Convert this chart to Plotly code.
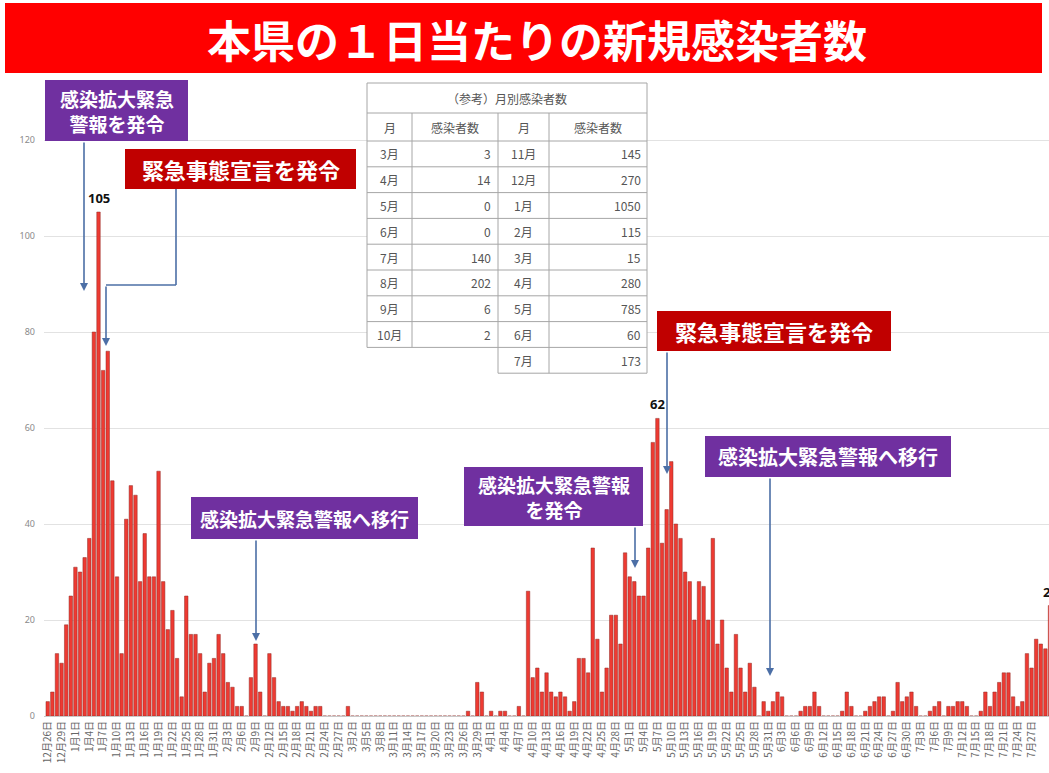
import pandas as pd
import plotly.graph_objects as go

# ---------------- data ----------------
start_date = "2020-12-26"
daily_cases = [
    3, 5, 13, 11, 19, 25, 31, 30, 33, 37,
    80, 105, 72, 76, 49, 29, 13, 41, 48, 46,
    28, 38, 29, 29, 51, 28, 18, 22, 12, 4,
    25, 17, 17, 13, 5, 11, 12, 17, 13, 7,
    6, 2, 2, 0, 8, 15, 5, 0, 13, 8,
    3, 2, 2, 1, 2, 3, 2, 1, 2, 2,
    0, 0, 0, 0, 0, 2, 0, 0, 0, 0,
    0, 0, 0, 0, 0, 0, 0, 0, 0, 0,
    0, 0, 0, 0, 0, 0, 0, 0, 0, 0,
    0, 1, 0, 7, 5, 0, 1, 0, 1, 1,
    0, 0, 2, 0, 26, 8, 10, 5, 9, 5,
    4, 5, 4, 1, 3, 12, 12, 9, 35, 16,
    5, 10, 21, 21, 15, 34, 29, 28, 25, 25,
    35, 57, 62, 36, 43, 53, 40, 37, 30, 28,
    20, 28, 27, 20, 37, 15, 20, 10, 5, 17,
    10, 5, 11, 6, 0, 3, 1, 3, 5, 4,
    0, 0, 0, 1, 2, 2, 5, 2, 0, 0,
    0, 0, 1, 5, 2, 0, 0, 1, 2, 3,
    4, 4, 0, 1, 7, 3, 4, 5, 2, 0,
    0, 1, 2, 3, 0, 2, 2, 3, 3, 2,
    0, 0, 1, 5, 2, 5, 7, 9, 9, 4,
    2, 3, 13, 10, 16, 15, 14, 23,
]
labeled_dates = ["2021-01-06", "2021-05-07", "2021-07-31"]

y_ticks = [0, 20, 40, 60, 80, 100, 120]

chart_title = "本県の１日当たりの新規感染者数"

table_title = "（参考）月別感染者数"
table_header = ["月", "感染者数", "月", "感染者数"]
months_left = ["3月", "4月", "5月", "6月", "7月", "8月", "9月", "10月"]
counts_left = [3, 14, 0, 0, 140, 202, 6, 2]
months_right = ["11月", "12月", "1月", "2月", "3月", "4月", "5月", "6月", "7月"]
counts_right = [145, 270, 1050, 115, 15, 280, 785, 60, 173]

event_texts = [
    "感染拡大緊急<br>警報を発令",
    "緊急事態宣言を発令",
    "感染拡大緊急警報へ移行",
    "感染拡大緊急警報<br>を発令",
    "緊急事態宣言を発令",
    "感染拡大緊急警報へ移行",
]

# ---------------- derived ----------------
dates = pd.date_range(start_date, periods=len(daily_cases), freq="D")

# ---------------- layout geometry (pixels) ----------------
W, H = 1049, 773
L, R, T, B = 44, 1049, 76, 716
FIRST_BAR_PX = 47.7
DAY_PX = 4.619
VAL_PX = 4.8


def px(x):
    return (x - L) / (R - L)


def py(y):
    return (B - y) / (B - T)


t0 = pd.Timestamp(start_date)
x_range = [t0 + pd.Timedelta(days=(L - FIRST_BAR_PX) / DAY_PX),
           t0 + pd.Timedelta(days=(R - FIRST_BAR_PX) / DAY_PX)]
y_top = (B - T) / VAL_PX


def date_to_px(d):
    return FIRST_BAR_PX + DAY_PX * (pd.Timestamp(d) - t0).days


def value_to_px(v):
    return B - VAL_PX * v


CJK = "Noto Sans CJK JP"
PURPLE = "#7030A0"
DARKRED = "#C00000"
ARROW = "#4C6FA6"

fig = go.Figure()
fig.add_trace(go.Bar(
    x=dates, y=daily_cases,
    marker=dict(color="#EE3A32", line=dict(color="#8E2A24", width=0.5)),
    cliponaxis=True,
))

shapes = []
annotations = []

# peak value labels (placed on the bars, may run past the right edge)
for d in labeled_dates:
    v = daily_cases[list(dates).index(pd.Timestamp(d))]
    annotations.append(dict(xref="paper", yref="paper",
                            x=px(date_to_px(d)), y=py(value_to_px(v) - 3),
                            text="<b>%d</b>" % v, showarrow=False,
                            xanchor="center", yanchor="bottom",
                            font=dict(family="Noto Sans", size=13, color="#111111")))

# title banner
shapes.append(dict(type="rect", xref="paper", yref="paper",
                   x0=px(5), x1=px(1042), y0=py(73), y1=py(3),
                   fillcolor="#FF0000", line=dict(width=0), layer="above"))
annotations.append(dict(xref="paper", yref="paper", x=px(537), y=py(39),
                        text="<b>" + chart_title + "</b>", showarrow=False,
                        xanchor="center", yanchor="middle",
                        font=dict(family=CJK, size=44, color="white")))

# event boxes
boxes = [
    (45, 80, 188, 141, PURPLE, 19),
    (125, 149, 356, 189, DARKRED, 22),
    (191, 497, 418, 539, PURPLE, 19),
    (464, 467, 643, 526, PURPLE, 19),
    (657, 311, 891, 351, DARKRED, 22),
    (705, 436, 951, 477, PURPLE, 20),
]
for (x0, y0, x1, y1, col, fs), txt in zip(boxes, event_texts):
    shapes.append(dict(type="rect", xref="paper", yref="paper",
                       x0=px(x0), x1=px(x1), y0=py(y1), y1=py(y0),
                       fillcolor=col, line=dict(width=0), layer="above"))
    annotations.append(dict(xref="paper", yref="paper",
                            x=px((x0 + x1) / 2), y=py((y0 + y1) / 2),
                            text="<b>" + txt + "</b>", showarrow=False,
                            xanchor="center", yanchor="middle",
                            font=dict(family=CJK, size=fs, color="white")))

# connector segments (elbow)
for (xa, ya, xb, yb) in [(176, 189, 176, 285), (176, 285, 106, 285)]:
    shapes.append(dict(type="line", xref="paper", yref="paper",
                       x0=px(xa), y0=py(ya), x1=px(xb), y1=py(yb),
                       line=dict(color=ARROW, width=1.6), layer="above"))

# arrows: (tip_x, tip_y, tail_x, tail_y)
arrows = [(84, 291, 84, 141), (106, 346, 106, 285), (256, 641, 256, 539),
          (635, 568, 635, 526), (667, 474, 667, 351), (770, 676, 770, 477)]
for tx, ty, sx, sy in arrows:
    annotations.append(dict(xref="paper", yref="paper", x=px(tx), y=py(ty),
                            ax=sx - tx, ay=sy - ty, text="", showarrow=True,
                            arrowhead=2, arrowsize=1, arrowwidth=1.6,
                            arrowcolor=ARROW))

# reference table
TX = [367, 412, 498, 549, 647]
TY_TOP, TY_H1, TY_H2 = 83, 113, 141
ROW_H = 25.8
n_left = len(months_left)
n_right = len(months_right)
y_left_end = TY_H2 + ROW_H * n_left
y_right_end = TY_H2 + ROW_H * n_right
GRID = "#A6A6A6"

shapes.append(dict(type="rect", xref="paper", yref="paper",
                   x0=px(TX[0]), x1=px(TX[4]), y0=py(y_left_end), y1=py(TY_TOP),
                   fillcolor="white", line=dict(width=0), layer="above"))
shapes.append(dict(type="rect", xref="paper", yref="paper",
                   x0=px(TX[2]), x1=px(TX[4]), y0=py(y_right_end), y1=py(y_left_end),
                   fillcolor="white", line=dict(width=0), layer="above"))


def hline(y, xa, xb):
    shapes.append(dict(type="line", xref="paper", yref="paper",
                       x0=px(xa), x1=px(xb), y0=py(y), y1=py(y),
                       line=dict(color=GRID, width=1), layer="above"))


def vline(x, ya, yb):
    shapes.append(dict(type="line", xref="paper", yref="paper",
                       x0=px(x), x1=px(x), y0=py(ya), y1=py(yb),
                       line=dict(color=GRID, width=1), layer="above"))


hline(TY_TOP, TX[0], TX[4])
hline(TY_H1, TX[0], TX[4])
hline(TY_H2, TX[0], TX[4])
for i in range(1, n_right + 1):
    y = TY_H2 + ROW_H * i
    if i <= n_left:
        hline(y, TX[0], TX[4])
    else:
        hline(y, TX[2], TX[4])
vline(TX[0], TY_TOP, y_left_end)
vline(TX[1], TY_H1, y_left_end)
vline(TX[2], TY_H1, y_right_end)
vline(TX[3], TY_H1, y_right_end)
vline(TX[4], TY_TOP, y_right_end)

TFONT = dict(family=CJK, size=12, color="#555555")


def cell_text(x, y, txt, anchor="center"):
    annotations.append(dict(xref="paper", yref="paper", x=px(x), y=py(y),
                            text=txt, showarrow=False, xanchor=anchor,
                            yanchor="middle", font=TFONT))


cell_text((TX[0] + TX[4]) / 2, (TY_TOP + TY_H1) / 2, table_title)
for j, h in enumerate(table_header):
    cell_text((TX[j] + TX[j + 1]) / 2, (TY_H1 + TY_H2) / 2, h)
for i, (m, c) in enumerate(zip(months_left, counts_left)):
    yc = TY_H2 + ROW_H * (i + 0.5)
    cell_text((TX[0] + TX[1]) / 2, yc, m)
    cell_text(TX[2] - 5, yc, str(c), anchor="right")
for i, (m, c) in enumerate(zip(months_right, counts_right)):
    yc = TY_H2 + ROW_H * (i + 0.5)
    cell_text((TX[2] + TX[3]) / 2, yc, m)
    cell_text(TX[4] - 4, yc, str(c), anchor="right")

fig.update_layout(
    width=W, height=H, autosize=False,
    margin=dict(l=L, r=W - R, t=T, b=H - B, pad=0),
    paper_bgcolor="white", plot_bgcolor="white",
    showlegend=False, bargap=0.25,
    shapes=shapes, annotations=annotations,
    xaxis=dict(type="date", range=x_range, tick0=start_date, dtick=3 * 86400000,
               tickformat="%-m月%-d日", tickangle=-90,
               tickfont=dict(family=CJK, size=10, color="#666666"),
               showgrid=False, showline=True, linecolor="#C8C8C8", linewidth=1,
               ticks="", automargin=False, zeroline=False),
    yaxis=dict(range=[0, y_top], tickvals=y_ticks,
               tickfont=dict(family="Noto Sans", size=9, color="#8A8A8A"),
               showgrid=True, gridcolor="#E2E2E2", gridwidth=1,
               zeroline=False, showline=False, ticks="",
               ticklabelstandoff=8, automargin=False),
)

fig.write_html("out.html", config={"displayModeBar": False},
               post_script="document.body.style.margin='0';")
